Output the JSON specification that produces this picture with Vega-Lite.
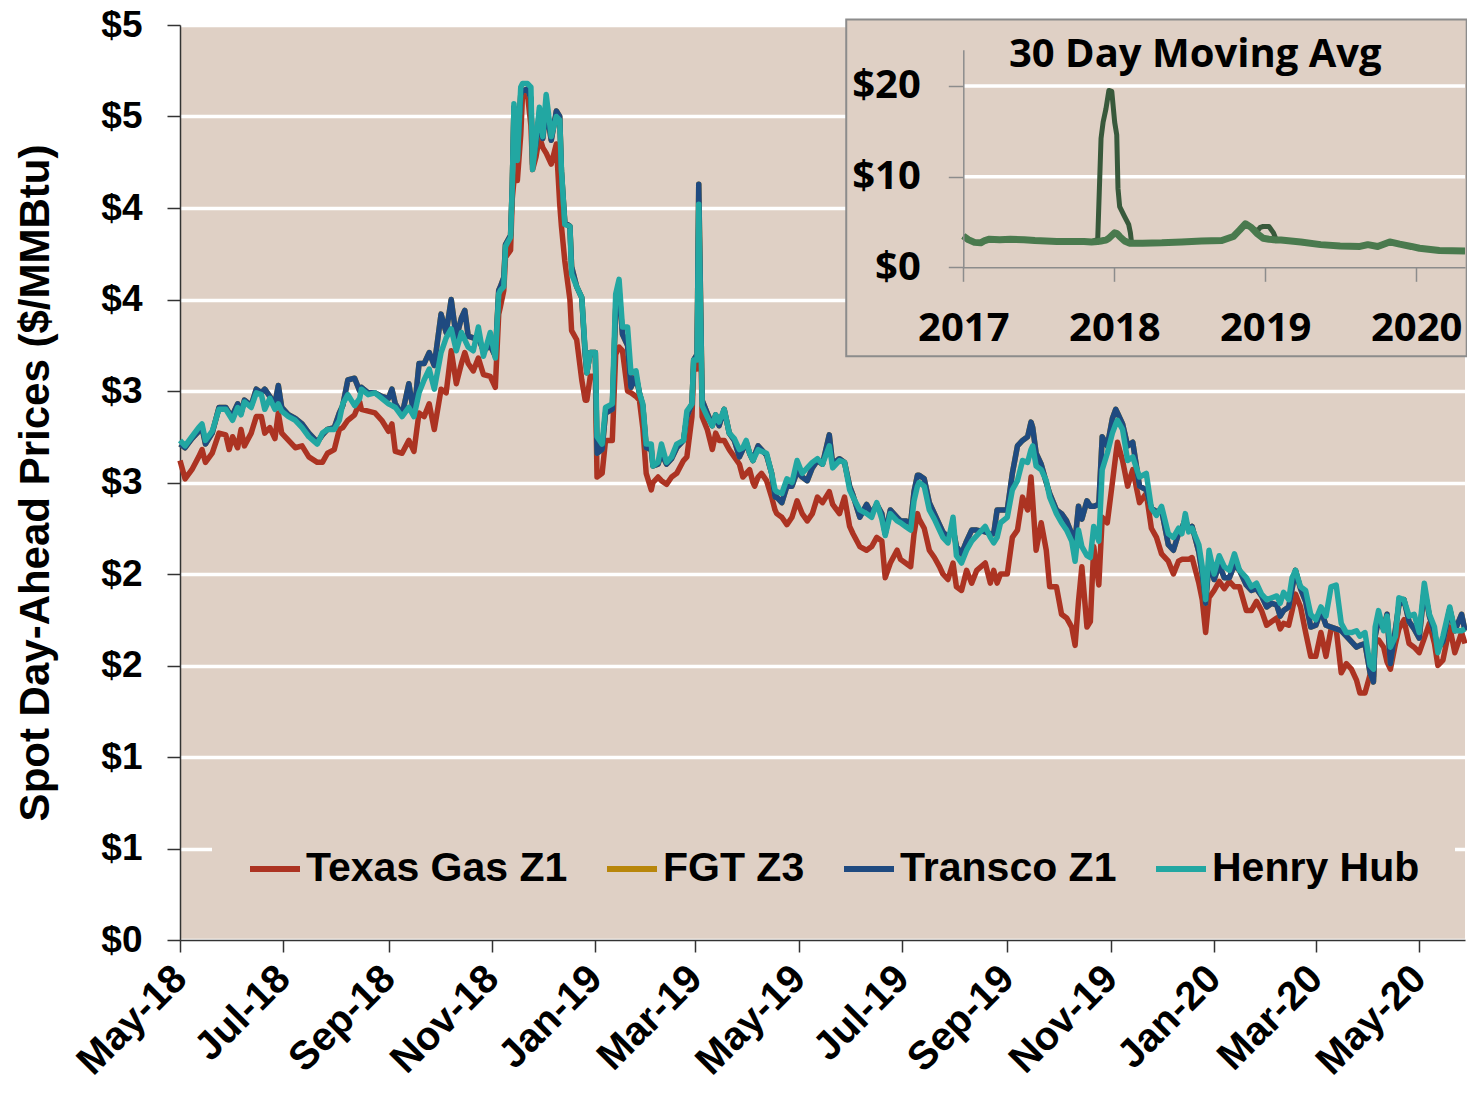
{
  "$schema": "https://vega.github.io/schema/vega-lite/v6.json",
  "width": 1285,
  "height": 915,
  "autosize": {"type": "none"},
  "padding": {"left": 180, "top": 25, "right": 2, "bottom": 153},
  "background": "white",
  "view": {"fill": "#DFD0C5", "stroke": null},
  "config": {
    "font": "Liberation Sans",
    "axis": {"labelColor": "black", "titleColor": "black", "labelFlush": false, "labelOverlap": false}
  },
  "datasets": {
    "main": [
      {"d":"2018-05-01","tx":2.62,"tr":2.71,"hh":2.73},
      {"d":"2018-05-04","tx":2.52,"tr":2.69,"hh":2.70},
      {"d":"2018-05-08","tx":2.57,"tr":2.74,"hh":2.75},
      {"d":"2018-05-12","tx":2.64,"tr":2.78,"hh":2.80},
      {"d":"2018-05-14","tx":2.68,"tr":2.80,"hh":2.82},
      {"d":"2018-05-16","tx":2.61,"tr":2.71,"hh":2.73},
      {"d":"2018-05-20","tx":2.66,"tr":2.77,"hh":2.78},
      {"d":"2018-05-24","tx":2.77,"tr":2.91,"hh":2.90},
      {"d":"2018-05-28","tx":2.76,"tr":2.91,"hh":2.90},
      {"d":"2018-05-30","tx":2.68,"tr":2.88,"hh":2.87},
      {"d":"2018-06-01","tx":2.75,"tr":2.87,"hh":2.84},
      {"d":"2018-06-04","tx":2.69,"tr":2.93,"hh":2.91},
      {"d":"2018-06-06","tx":2.79,"tr":2.88,"hh":2.87},
      {"d":"2018-06-08","tx":2.70,"tr":2.95,"hh":2.94},
      {"d":"2018-06-12","tx":2.77,"tr":2.92,"hh":2.91},
      {"d":"2018-06-15","tx":2.86,"tr":3.01,"hh":2.99},
      {"d":"2018-06-18","tx":2.86,"tr":2.99,"hh":2.98},
      {"d":"2018-06-20","tx":2.77,"tr":3.01,"hh":2.90},
      {"d":"2018-06-23","tx":2.80,"tr":2.97,"hh":2.96},
      {"d":"2018-06-26","tx":2.74,"tr":2.93,"hh":2.90},
      {"d":"2018-06-28","tx":2.88,"tr":3.03,"hh":2.93},
      {"d":"2018-06-30","tx":2.77,"tr":2.91,"hh":2.89},
      {"d":"2018-07-04","tx":2.73,"tr":2.87,"hh":2.86},
      {"d":"2018-07-08","tx":2.69,"tr":2.85,"hh":2.84},
      {"d":"2018-07-12","tx":2.70,"tr":2.82,"hh":2.80},
      {"d":"2018-07-16","tx":2.64,"tr":2.77,"hh":2.75},
      {"d":"2018-07-21","tx":2.61,"tr":2.72,"hh":2.71},
      {"d":"2018-07-24","tx":2.61,"tr":2.76,"hh":2.77},
      {"d":"2018-07-27","tx":2.66,"tr":2.79,"hh":2.79},
      {"d":"2018-07-31","tx":2.68,"tr":2.80,"hh":2.79},
      {"d":"2018-08-03","tx":2.79,"tr":2.88,"hh":2.84},
      {"d":"2018-08-05","tx":2.80,"tr":2.92,"hh":2.93},
      {"d":"2018-08-08","tx":2.84,"tr":3.06,"hh":2.98},
      {"d":"2018-08-12","tx":2.87,"tr":3.07,"hh":2.92},
      {"d":"2018-08-15","tx":2.94,"tr":3.00,"hh":2.96},
      {"d":"2018-08-16","tx":2.90,"tr":3.02,"hh":3.01},
      {"d":"2018-08-20","tx":2.89,"tr":2.99,"hh":2.98},
      {"d":"2018-08-24","tx":2.88,"tr":2.99,"hh":2.99},
      {"d":"2018-08-28","tx":2.84,"tr":2.97,"hh":2.96},
      {"d":"2018-09-01","tx":2.78,"tr":2.96,"hh":2.93},
      {"d":"2018-09-03","tx":2.82,"tr":3.01,"hh":2.92},
      {"d":"2018-09-05","tx":2.67,"tr":2.93,"hh":2.91},
      {"d":"2018-09-09","tx":2.66,"tr":2.87,"hh":2.86},
      {"d":"2018-09-13","tx":2.73,"tr":3.04,"hh":2.91},
      {"d":"2018-09-16","tx":2.67,"tr":2.87,"hh":2.86},
      {"d":"2018-09-19","tx":2.88,"tr":3.15,"hh":2.99},
      {"d":"2018-09-22","tx":2.86,"tr":3.15,"hh":3.06},
      {"d":"2018-09-25","tx":2.93,"tr":3.21,"hh":3.12},
      {"d":"2018-09-28","tx":2.79,"tr":3.14,"hh":3.01},
      {"d":"2018-10-02","tx":3.01,"tr":3.42,"hh":3.21},
      {"d":"2018-10-05","tx":2.99,"tr":3.32,"hh":3.29},
      {"d":"2018-10-08","tx":3.22,"tr":3.50,"hh":3.34},
      {"d":"2018-10-11","tx":3.04,"tr":3.29,"hh":3.22},
      {"d":"2018-10-14","tx":3.15,"tr":3.40,"hh":3.32},
      {"d":"2018-10-16","tx":3.21,"tr":3.44,"hh":3.28},
      {"d":"2018-10-18","tx":3.15,"tr":3.30,"hh":3.24},
      {"d":"2018-10-21","tx":3.11,"tr":3.29,"hh":3.22},
      {"d":"2018-10-24","tx":3.18,"tr":3.29,"hh":3.35},
      {"d":"2018-10-27","tx":3.09,"tr":3.22,"hh":3.19},
      {"d":"2018-10-31","tx":3.08,"tr":3.25,"hh":3.32},
      {"d":"2018-11-03","tx":3.02,"tr":3.19,"hh":3.18},
      {"d":"2018-11-05","tx":3.42,"tr":3.55,"hh":3.53},
      {"d":"2018-11-06","tx":3.46,"tr":3.57,"hh":3.55},
      {"d":"2018-11-08","tx":3.55,"tr":3.62,"hh":3.57},
      {"d":"2018-11-09","tx":3.73,"tr":3.80,"hh":3.79},
      {"d":"2018-11-12","tx":3.77,"tr":3.85,"hh":3.84},
      {"d":"2018-11-13","tx":4.05,"tr":4.12,"hh":4.12},
      {"d":"2018-11-14","tx":4.15,"tr":4.55,"hh":4.57},
      {"d":"2018-11-16","tx":4.15,"tr":4.27,"hh":4.26},
      {"d":"2018-11-18","tx":4.40,"tr":4.62,"hh":4.66},
      {"d":"2018-11-19","tx":4.61,"tr":4.64,"hh":4.68},
      {"d":"2018-11-22","tx":4.62,"tr":4.65,"hh":4.68},
      {"d":"2018-11-24","tx":4.45,"tr":4.60,"hh":4.66},
      {"d":"2018-11-25","tx":4.21,"tr":4.24,"hh":4.21},
      {"d":"2018-11-27","tx":4.28,"tr":4.35,"hh":4.38},
      {"d":"2018-11-29","tx":4.39,"tr":4.50,"hh":4.55},
      {"d":"2018-12-01","tx":4.33,"tr":4.38,"hh":4.39},
      {"d":"2018-12-03","tx":4.30,"tr":4.55,"hh":4.62},
      {"d":"2018-12-06","tx":4.24,"tr":4.37,"hh":4.39},
      {"d":"2018-12-09","tx":4.35,"tr":4.53,"hh":4.50},
      {"d":"2018-12-11","tx":4.02,"tr":4.50,"hh":4.48},
      {"d":"2018-12-12","tx":3.90,"tr":4.20,"hh":4.21},
      {"d":"2018-12-14","tx":3.71,"tr":3.92,"hh":3.91},
      {"d":"2018-12-17","tx":3.50,"tr":3.90,"hh":3.90},
      {"d":"2018-12-18","tx":3.33,"tr":3.68,"hh":3.64},
      {"d":"2018-12-21","tx":3.28,"tr":3.57,"hh":3.57},
      {"d":"2018-12-24","tx":3.06,"tr":3.51,"hh":3.51},
      {"d":"2018-12-26","tx":2.95,"tr":3.20,"hh":3.22},
      {"d":"2018-12-27","tx":2.95,"tr":3.10,"hh":3.10},
      {"d":"2018-12-29","tx":3.08,"tr":3.21,"hh":3.21},
      {"d":"2019-01-01","tx":3.08,"tr":3.21,"hh":3.21},
      {"d":"2019-01-02","tx":2.53,"tr":2.66,"hh":2.75},
      {"d":"2019-01-05","tx":2.55,"tr":2.68,"hh":2.71},
      {"d":"2019-01-07","tx":2.73,"tr":2.88,"hh":2.91},
      {"d":"2019-01-11","tx":2.73,"tr":2.90,"hh":2.93},
      {"d":"2019-01-13","tx":3.20,"tr":3.45,"hh":3.53},
      {"d":"2019-01-15","tx":3.24,"tr":3.55,"hh":3.61},
      {"d":"2019-01-17","tx":3.22,"tr":3.31,"hh":3.35},
      {"d":"2019-01-20","tx":3.00,"tr":3.25,"hh":3.35},
      {"d":"2019-01-22","tx":2.99,"tr":3.02,"hh":3.10},
      {"d":"2019-01-25","tx":2.97,"tr":3.08,"hh":3.11},
      {"d":"2019-01-27","tx":2.95,"tr":2.99,"hh":2.99},
      {"d":"2019-01-29","tx":2.80,"tr":2.92,"hh":2.93},
      {"d":"2019-01-31","tx":2.55,"tr":2.69,"hh":2.71},
      {"d":"2019-02-03","tx":2.46,"tr":2.68,"hh":2.71},
      {"d":"2019-02-04","tx":2.50,"tr":2.59,"hh":2.59},
      {"d":"2019-02-07","tx":2.53,"tr":2.60,"hh":2.61},
      {"d":"2019-02-09","tx":2.51,"tr":2.66,"hh":2.71},
      {"d":"2019-02-12","tx":2.49,"tr":2.60,"hh":2.61},
      {"d":"2019-02-15","tx":2.53,"tr":2.63,"hh":2.64},
      {"d":"2019-02-18","tx":2.55,"tr":2.69,"hh":2.71},
      {"d":"2019-02-22","tx":2.62,"tr":2.73,"hh":2.73},
      {"d":"2019-02-24","tx":2.64,"tr":2.86,"hh":2.89},
      {"d":"2019-02-27","tx":2.86,"tr":2.93,"hh":2.93},
      {"d":"2019-02-28","tx":3.12,"tr":3.17,"hh":3.17},
      {"d":"2019-03-02","tx":3.12,"tr":3.20,"hh":3.17},
      {"d":"2019-03-03","tx":3.90,"tr":4.13,"hh":4.02},
      {"d":"2019-03-05","tx":2.86,"tr":2.95,"hh":2.92},
      {"d":"2019-03-08","tx":2.79,"tr":2.88,"hh":2.86},
      {"d":"2019-03-11","tx":2.68,"tr":2.81,"hh":2.81},
      {"d":"2019-03-13","tx":2.77,"tr":2.87,"hh":2.87},
      {"d":"2019-03-15","tx":2.73,"tr":2.81,"hh":2.83},
      {"d":"2019-03-18","tx":2.73,"tr":2.90,"hh":2.90},
      {"d":"2019-03-21","tx":2.68,"tr":2.77,"hh":2.77},
      {"d":"2019-03-24","tx":2.64,"tr":2.73,"hh":2.74},
      {"d":"2019-03-27","tx":2.60,"tr":2.64,"hh":2.68},
      {"d":"2019-03-29","tx":2.53,"tr":2.68,"hh":2.69},
      {"d":"2019-03-31","tx":2.55,"tr":2.72,"hh":2.73},
      {"d":"2019-04-02","tx":2.57,"tr":2.66,"hh":2.66},
      {"d":"2019-04-04","tx":2.50,"tr":2.62,"hh":2.62},
      {"d":"2019-04-05","tx":2.48,"tr":2.65,"hh":2.64},
      {"d":"2019-04-07","tx":2.53,"tr":2.70,"hh":2.68},
      {"d":"2019-04-09","tx":2.55,"tr":2.68,"hh":2.67},
      {"d":"2019-04-12","tx":2.51,"tr":2.65,"hh":2.66},
      {"d":"2019-04-15","tx":2.42,"tr":2.55,"hh":2.55},
      {"d":"2019-04-17","tx":2.35,"tr":2.42,"hh":2.46},
      {"d":"2019-04-18","tx":2.33,"tr":2.42,"hh":2.45},
      {"d":"2019-04-21","tx":2.31,"tr":2.39,"hh":2.44},
      {"d":"2019-04-24","tx":2.27,"tr":2.48,"hh":2.52},
      {"d":"2019-04-27","tx":2.31,"tr":2.48,"hh":2.50},
      {"d":"2019-04-30","tx":2.40,"tr":2.56,"hh":2.62},
      {"d":"2019-05-03","tx":2.33,"tr":2.53,"hh":2.55},
      {"d":"2019-05-06","tx":2.29,"tr":2.51,"hh":2.58},
      {"d":"2019-05-09","tx":2.33,"tr":2.58,"hh":2.61},
      {"d":"2019-05-12","tx":2.42,"tr":2.62,"hh":2.63},
      {"d":"2019-05-15","tx":2.39,"tr":2.60,"hh":2.60},
      {"d":"2019-05-19","tx":2.45,"tr":2.76,"hh":2.70},
      {"d":"2019-05-21","tx":2.38,"tr":2.60,"hh":2.58},
      {"d":"2019-05-25","tx":2.33,"tr":2.63,"hh":2.62},
      {"d":"2019-05-28","tx":2.42,"tr":2.61,"hh":2.61},
      {"d":"2019-05-31","tx":2.26,"tr":2.48,"hh":2.46},
      {"d":"2019-06-02","tx":2.22,"tr":2.43,"hh":2.42},
      {"d":"2019-06-06","tx":2.15,"tr":2.31,"hh":2.35},
      {"d":"2019-06-10","tx":2.13,"tr":2.38,"hh":2.33},
      {"d":"2019-06-13","tx":2.15,"tr":2.33,"hh":2.31},
      {"d":"2019-06-16","tx":2.20,"tr":2.38,"hh":2.39},
      {"d":"2019-06-19","tx":2.18,"tr":2.33,"hh":2.30},
      {"d":"2019-06-21","tx":1.98,"tr":2.22,"hh":2.21},
      {"d":"2019-06-24","tx":2.06,"tr":2.35,"hh":2.33},
      {"d":"2019-06-28","tx":2.13,"tr":2.31,"hh":2.29},
      {"d":"2019-06-30","tx":2.08,"tr":2.29,"hh":2.28},
      {"d":"2019-07-03","tx":2.06,"tr":2.29,"hh":2.26},
      {"d":"2019-07-06","tx":2.04,"tr":2.28,"hh":2.24},
      {"d":"2019-07-08","tx":2.22,"tr":2.45,"hh":2.40},
      {"d":"2019-07-10","tx":2.33,"tr":2.54,"hh":2.48},
      {"d":"2019-07-11","tx":2.30,"tr":2.54,"hh":2.50},
      {"d":"2019-07-14","tx":2.25,"tr":2.52,"hh":2.48},
      {"d":"2019-07-17","tx":2.13,"tr":2.39,"hh":2.35},
      {"d":"2019-07-20","tx":2.09,"tr":2.33,"hh":2.30},
      {"d":"2019-07-23","tx":2.04,"tr":2.27,"hh":2.24},
      {"d":"2019-07-25","tx":2.00,"tr":2.23,"hh":2.20},
      {"d":"2019-07-28","tx":1.97,"tr":2.20,"hh":2.17},
      {"d":"2019-07-31","tx":2.06,"tr":2.25,"hh":2.31},
      {"d":"2019-08-02","tx":1.93,"tr":2.15,"hh":2.10},
      {"d":"2019-08-05","tx":1.91,"tr":2.11,"hh":2.06},
      {"d":"2019-08-08","tx":2.02,"tr":2.18,"hh":2.13},
      {"d":"2019-08-11","tx":1.95,"tr":2.24,"hh":2.18},
      {"d":"2019-08-14","tx":2.02,"tr":2.24,"hh":2.21},
      {"d":"2019-08-19","tx":2.06,"tr":2.23,"hh":2.26},
      {"d":"2019-08-22","tx":1.95,"tr":2.22,"hh":2.20},
      {"d":"2019-08-24","tx":2.02,"tr":2.22,"hh":2.17},
      {"d":"2019-08-26","tx":1.95,"tr":2.35,"hh":2.20},
      {"d":"2019-08-28","tx":2.00,"tr":2.35,"hh":2.28},
      {"d":"2019-09-01","tx":2.00,"tr":2.35,"hh":2.31},
      {"d":"2019-09-04","tx":2.20,"tr":2.55,"hh":2.46},
      {"d":"2019-09-07","tx":2.24,"tr":2.70,"hh":2.51},
      {"d":"2019-09-10","tx":2.42,"tr":2.73,"hh":2.62},
      {"d":"2019-09-13","tx":2.35,"tr":2.75,"hh":2.61},
      {"d":"2019-09-15","tx":2.53,"tr":2.83,"hh":2.68},
      {"d":"2019-09-16","tx":2.40,"tr":2.80,"hh":2.70},
      {"d":"2019-09-18","tx":2.13,"tr":2.66,"hh":2.59},
      {"d":"2019-09-21","tx":2.28,"tr":2.60,"hh":2.57},
      {"d":"2019-09-24","tx":2.13,"tr":2.50,"hh":2.51},
      {"d":"2019-09-26","tx":1.93,"tr":2.44,"hh":2.42},
      {"d":"2019-09-30","tx":1.93,"tr":2.35,"hh":2.33},
      {"d":"2019-10-03","tx":1.78,"tr":2.33,"hh":2.28},
      {"d":"2019-10-06","tx":1.76,"tr":2.29,"hh":2.24},
      {"d":"2019-10-09","tx":1.71,"tr":2.22,"hh":2.18},
      {"d":"2019-10-11","tx":1.61,"tr":2.18,"hh":2.07},
      {"d":"2019-10-13","tx":1.85,"tr":2.37,"hh":2.24},
      {"d":"2019-10-15","tx":2.04,"tr":2.30,"hh":2.15},
      {"d":"2019-10-18","tx":1.71,"tr":2.40,"hh":2.10},
      {"d":"2019-10-20","tx":1.74,"tr":2.37,"hh":2.09},
      {"d":"2019-10-22","tx":2.15,"tr":2.37,"hh":2.26},
      {"d":"2019-10-25","tx":1.94,"tr":2.38,"hh":2.18},
      {"d":"2019-10-27","tx":2.31,"tr":2.75,"hh":2.57},
      {"d":"2019-10-30","tx":2.28,"tr":2.70,"hh":2.66},
      {"d":"2019-11-02","tx":2.50,"tr":2.85,"hh":2.77},
      {"d":"2019-11-04","tx":2.65,"tr":2.90,"hh":2.82},
      {"d":"2019-11-05","tx":2.72,"tr":2.88,"hh":2.84},
      {"d":"2019-11-08","tx":2.62,"tr":2.82,"hh":2.79},
      {"d":"2019-11-11","tx":2.48,"tr":2.70,"hh":2.62},
      {"d":"2019-11-14","tx":2.57,"tr":2.72,"hh":2.64},
      {"d":"2019-11-18","tx":2.39,"tr":2.48,"hh":2.53},
      {"d":"2019-11-22","tx":2.44,"tr":2.46,"hh":2.55},
      {"d":"2019-11-25","tx":2.25,"tr":2.36,"hh":2.36},
      {"d":"2019-11-28","tx":2.20,"tr":2.34,"hh":2.32},
      {"d":"2019-12-01","tx":2.11,"tr":2.35,"hh":2.37},
      {"d":"2019-12-05","tx":2.07,"tr":2.16,"hh":2.22},
      {"d":"2019-12-08","tx":2.00,"tr":2.13,"hh":2.20},
      {"d":"2019-12-11","tx":2.07,"tr":2.22,"hh":2.25},
      {"d":"2019-12-13","tx":2.08,"tr":2.25,"hh":2.22},
      {"d":"2019-12-15","tx":2.08,"tr":2.30,"hh":2.33},
      {"d":"2019-12-17","tx":2.08,"tr":2.24,"hh":2.23},
      {"d":"2019-12-19","tx":2.09,"tr":2.26,"hh":2.25},
      {"d":"2019-12-23","tx":1.95,"tr":2.12,"hh":2.16},
      {"d":"2019-12-25","tx":1.86,"tr":2.00,"hh":2.04},
      {"d":"2019-12-27","tx":1.68,"tr":1.84,"hh":1.86},
      {"d":"2019-12-29","tx":1.87,"tr":2.07,"hh":2.13},
      {"d":"2020-01-01","tx":1.91,"tr":1.97,"hh":2.00},
      {"d":"2020-01-04","tx":1.96,"tr":2.05,"hh":2.10},
      {"d":"2020-01-07","tx":1.92,"tr":1.98,"hh":2.04},
      {"d":"2020-01-10","tx":1.96,"tr":1.98,"hh":2.02},
      {"d":"2020-01-13","tx":1.93,"tr":2.05,"hh":2.11},
      {"d":"2020-01-16","tx":1.93,"tr":2.02,"hh":2.02},
      {"d":"2020-01-20","tx":1.80,"tr":1.94,"hh":1.98},
      {"d":"2020-01-23","tx":1.80,"tr":1.91,"hh":1.93},
      {"d":"2020-01-26","tx":1.85,"tr":1.92,"hh":1.95},
      {"d":"2020-01-29","tx":1.80,"tr":1.88,"hh":1.89},
      {"d":"2020-02-01","tx":1.72,"tr":1.82,"hh":1.86},
      {"d":"2020-02-04","tx":1.74,"tr":1.84,"hh":1.87},
      {"d":"2020-02-07","tx":1.76,"tr":1.83,"hh":1.88},
      {"d":"2020-02-09","tx":1.70,"tr":1.77,"hh":1.84},
      {"d":"2020-02-11","tx":1.73,"tr":1.80,"hh":1.90},
      {"d":"2020-02-14","tx":1.72,"tr":1.82,"hh":1.86},
      {"d":"2020-02-16","tx":1.80,"tr":1.92,"hh":1.98},
      {"d":"2020-02-18","tx":1.89,"tr":2.02,"hh":2.02},
      {"d":"2020-02-21","tx":1.82,"tr":1.92,"hh":1.93},
      {"d":"2020-02-24","tx":1.68,"tr":1.85,"hh":1.91},
      {"d":"2020-02-27","tx":1.55,"tr":1.71,"hh":1.78},
      {"d":"2020-03-01","tx":1.55,"tr":1.72,"hh":1.75},
      {"d":"2020-03-04","tx":1.68,"tr":1.80,"hh":1.82},
      {"d":"2020-03-07","tx":1.55,"tr":1.72,"hh":1.77},
      {"d":"2020-03-10","tx":1.70,"tr":1.71,"hh":1.93},
      {"d":"2020-03-13","tx":1.70,"tr":1.70,"hh":1.94},
      {"d":"2020-03-16","tx":1.46,"tr":1.69,"hh":1.73},
      {"d":"2020-03-19","tx":1.51,"tr":1.66,"hh":1.68},
      {"d":"2020-03-22","tx":1.48,"tr":1.63,"hh":1.68},
      {"d":"2020-03-25","tx":1.42,"tr":1.60,"hh":1.69},
      {"d":"2020-03-27","tx":1.35,"tr":1.61,"hh":1.66},
      {"d":"2020-03-30","tx":1.35,"tr":1.62,"hh":1.68},
      {"d":"2020-04-02","tx":1.45,"tr":1.46,"hh":1.50},
      {"d":"2020-04-04","tx":1.44,"tr":1.41,"hh":1.48},
      {"d":"2020-04-05","tx":1.64,"tr":1.66,"hh":1.71},
      {"d":"2020-04-07","tx":1.64,"tr":1.75,"hh":1.80},
      {"d":"2020-04-10","tx":1.60,"tr":1.70,"hh":1.69},
      {"d":"2020-04-12","tx":1.52,"tr":1.78,"hh":1.77},
      {"d":"2020-04-14","tx":1.48,"tr":1.51,"hh":1.60},
      {"d":"2020-04-17","tx":1.62,"tr":1.70,"hh":1.66},
      {"d":"2020-04-19","tx":1.70,"tr":1.83,"hh":1.87},
      {"d":"2020-04-22","tx":1.75,"tr":1.86,"hh":1.86},
      {"d":"2020-04-25","tx":1.62,"tr":1.74,"hh":1.77},
      {"d":"2020-04-28","tx":1.60,"tr":1.70,"hh":1.78},
      {"d":"2020-05-01","tx":1.57,"tr":1.65,"hh":1.68},
      {"d":"2020-05-04","tx":1.65,"tr":1.92,"hh":1.95},
      {"d":"2020-05-07","tx":1.73,"tr":1.77,"hh":1.78},
      {"d":"2020-05-10","tx":1.62,"tr":1.68,"hh":1.71},
      {"d":"2020-05-12","tx":1.50,"tr":1.59,"hh":1.57},
      {"d":"2020-05-15","tx":1.53,"tr":1.63,"hh":1.66},
      {"d":"2020-05-19","tx":1.71,"tr":1.81,"hh":1.82},
      {"d":"2020-05-22","tx":1.57,"tr":1.69,"hh":1.69},
      {"d":"2020-05-26","tx":1.68,"tr":1.78,"hh":1.69},
      {"d":"2020-05-28","tx":1.62,"tr":1.69,"hh":1.70}
    ],
    "box": [{"x1":"2019-05-29","x2":"2020-05-29","y1":3.19,"y2":5.03}],
    "inset": [
      {"d":"2017-01-01","base":3.45,"spike":3.45},
      {"d":"2017-01-13","base":3.05,"spike":3.05},
      {"d":"2017-01-28","base":2.75,"spike":2.75},
      {"d":"2017-02-12","base":2.7,"spike":2.7},
      {"d":"2017-02-22","base":2.95,"spike":2.95},
      {"d":"2017-03-05","base":3.1,"spike":3.1},
      {"d":"2017-03-30","base":3.05,"spike":3.05},
      {"d":"2017-04-25","base":3.1,"spike":3.1},
      {"d":"2017-05-28","base":3.05,"spike":3.05},
      {"d":"2017-06-23","base":2.95,"spike":2.95},
      {"d":"2017-07-20","base":2.9,"spike":2.9},
      {"d":"2017-08-15","base":2.85,"spike":2.85},
      {"d":"2017-09-27","base":2.85,"spike":2.85},
      {"d":"2017-10-20","base":2.85,"spike":2.85},
      {"d":"2017-11-07","base":2.8,"spike":2.8},
      {"d":"2017-11-22","base":2.85,"spike":3.1},
      {"d":"2017-11-30","base":2.9,"spike":14.2},
      {"d":"2017-12-05","base":2.95,"spike":16.0},
      {"d":"2017-12-12","base":3.0,"spike":17.5},
      {"d":"2017-12-19","base":3.2,"spike":19.5},
      {"d":"2017-12-26","base":3.5,"spike":19.4},
      {"d":"2018-01-02","base":3.8,"spike":16.0},
      {"d":"2018-01-07","base":3.75,"spike":14.6},
      {"d":"2018-01-10","base":3.6,"spike":8.7},
      {"d":"2018-01-14","base":3.4,"spike":6.7},
      {"d":"2018-01-26","base":2.9,"spike":5.6},
      {"d":"2018-02-05","base":2.7,"spike":4.7},
      {"d":"2018-02-09","base":2.65,"spike":3.8},
      {"d":"2018-02-12","base":2.65,"spike":2.65},
      {"d":"2018-03-10","base":2.65,"spike":2.65},
      {"d":"2018-04-26","base":2.7,"spike":2.7},
      {"d":"2018-06-13","base":2.8,"spike":2.8},
      {"d":"2018-07-31","base":2.9,"spike":2.9},
      {"d":"2018-09-18","base":2.95,"spike":2.95},
      {"d":"2018-10-16","base":3.4,"spike":3.4},
      {"d":"2018-10-31","base":4.1,"spike":4.1},
      {"d":"2018-11-14","base":4.8,"spike":4.8},
      {"d":"2018-11-28","base":4.4,"spike":4.4},
      {"d":"2018-12-13","base":3.7,"spike":4.0},
      {"d":"2018-12-20","base":3.45,"spike":4.4},
      {"d":"2018-12-27","base":3.2,"spike":4.5},
      {"d":"2019-01-10","base":3.1,"spike":4.5},
      {"d":"2019-01-21","base":3.05,"spike":3.8},
      {"d":"2019-01-27","base":3.0,"spike":3.1},
      {"d":"2019-02-08","base":3.0,"spike":3.0},
      {"d":"2019-03-28","base":2.8,"spike":2.8},
      {"d":"2019-05-15","base":2.5,"spike":2.5},
      {"d":"2019-07-01","base":2.35,"spike":2.35},
      {"d":"2019-08-18","base":2.3,"spike":2.3},
      {"d":"2019-09-06","base":2.5,"spike":2.5},
      {"d":"2019-09-30","base":2.3,"spike":2.3},
      {"d":"2019-10-29","base":2.8,"spike":2.8},
      {"d":"2019-11-22","base":2.55,"spike":2.55},
      {"d":"2019-12-20","base":2.3,"spike":2.3},
      {"d":"2020-01-09","base":2.1,"spike":2.1},
      {"d":"2020-02-26","base":1.85,"spike":1.85},
      {"d":"2020-04-28","base":1.8,"spike":1.8}
    ],
    "insetgrid": [{"v":10},{"v":20}],
    "insettitle": [{"label":"30 Day Moving Avg"}]
  },
  "layer": [
    {
      "layer": [
        {
          "data": {"name": "main"},
          "mark": {"type": "line", "strokeWidth": 5.5, "strokeJoin": "round"},
          "encoding": {
            "x": {
              "field": "d", "type": "temporal",
              "scale": {"type": "utc", "domain": [{"year":2018,"month":5,"date":1,"utc":true},{"year":2020,"month":5,"date":28,"utc":true}]},
              "axis": {
                "values": [
                  {"year":2018,"month":5,"date":1,"utc":true},{"year":2018,"month":7,"date":1,"utc":true},
                  {"year":2018,"month":9,"date":1,"utc":true},{"year":2018,"month":11,"date":1,"utc":true},
                  {"year":2019,"month":1,"date":1,"utc":true},{"year":2019,"month":3,"date":1,"utc":true},
                  {"year":2019,"month":5,"date":1,"utc":true},{"year":2019,"month":7,"date":1,"utc":true},
                  {"year":2019,"month":9,"date":1,"utc":true},{"year":2019,"month":11,"date":1,"utc":true},
                  {"year":2020,"month":1,"date":1,"utc":true},{"year":2020,"month":3,"date":1,"utc":true},
                  {"year":2020,"month":5,"date":1,"utc":true}
                ],
                "format": "%b-%y", "labelAngle": -45, "labelAlign": "right", "labelBaseline": "middle",
                "labelFontSize": 40, "labelFontWeight": "bold", "labelPadding": 20,
                "tickSize": 12, "tickWidth": 1.5, "tickColor": "#333", "domainColor": "#333", "domainWidth": 1.5,
                "grid": false, "title": null
              }
            },
            "y": {
              "field": "tx", "type": "quantitative",
              "title": "Spot Day-Ahead Prices ($/MMBtu)",
              "scale": {"domain": [0, 5], "nice": false, "zero": true},
              "axis": {
                "values": [0,0.5,1,1.5,2,2.5,3,3.5,4,4.5,5], "format": "$.0f",
                "labelFontSize": 37, "labelFontWeight": "bold", "labelPadding": 25,
                "tickSize": 13, "tickWidth": 1.5, "tickColor": "#333", "domainColor": "#333", "domainWidth": 1.5,
                "grid": true, "gridColor": "white", "gridWidth": 3.5, "gridOpacity": 1,
                "titleFontSize": 42, "titleFontWeight": "bold", "titlePadding": 43
              }
            },
            "color": {
              "datum": "Texas Gas Z1",
              "scale": {"domain": ["Texas Gas Z1","FGT Z3","Transco Z1","Henry Hub"], "range": ["#AC3322","#B8860B","#1F4A80","#22A7A2"]},
              "legend": {
                "orient": "none", "legendX": 32, "legendY": 781, "direction": "horizontal", "title": null,
                "fillColor": "#DFD0C5", "padding": 35, "symbolType": "stroke", "symbolSize": 2500, "symbolStrokeWidth": 6,
                "labelFont": "Liberation Sans", "labelFontSize": 41, "labelFontWeight": "bold", "labelColor": "black",
                "labelOffset": 3, "columnPadding": 27, "labelLimit": 0, "zindex": 1
              }
            }
          }
        },
        {
          "data": {"name": "main"},
          "mark": {"type": "line", "strokeWidth": 5.5, "strokeJoin": "round"},
          "encoding": {
            "x": {"field": "d", "type": "temporal"},
            "y": {"field": "tr", "type": "quantitative", "title": "Spot Day-Ahead Prices ($/MMBtu)"},
            "color": {"datum": "FGT Z3"}
          }
        },
        {
          "data": {"name": "main"},
          "mark": {"type": "line", "strokeWidth": 5.5, "strokeJoin": "round"},
          "encoding": {
            "x": {"field": "d", "type": "temporal"},
            "y": {"field": "tr", "type": "quantitative", "title": "Spot Day-Ahead Prices ($/MMBtu)"},
            "color": {"datum": "Transco Z1"}
          }
        },
        {
          "data": {"name": "main"},
          "mark": {"type": "line", "strokeWidth": 5.5, "strokeJoin": "round"},
          "encoding": {
            "x": {"field": "d", "type": "temporal"},
            "y": {"field": "hh", "type": "quantitative", "title": "Spot Day-Ahead Prices ($/MMBtu)"},
            "color": {"datum": "Henry Hub"}
          }
        },
        {
          "data": {"name": "box"},
          "mark": {"type": "rect", "fill": "#DFD0C5", "stroke": "#8C8C8C", "strokeWidth": 2},
          "encoding": {
            "x": {"field": "x1", "type": "temporal"},
            "x2": {"field": "x2"},
            "y": {"field": "y1", "type": "quantitative", "title": "Spot Day-Ahead Prices ($/MMBtu)"},
            "y2": {"field": "y2"}
          }
        }
      ]
    },
    {
      "layer": [
        {
          "data": {"name": "insetgrid"},
          "mark": {"type": "rule", "color": "white", "strokeWidth": 3.5},
          "encoding": {
            "y": {
              "field": "v", "type": "quantitative",
              "scale": {"domain": [0, 24], "nice": false, "range": [242.3, 24.7]},
              "axis": {
                "orient": "left", "offset": -783.3, "values": [0, 10, 20], "format": "$.0f",
                "labelFont": "Open Sans", "labelFontSize": 40, "labelFontWeight": "bold",
                "labelPadding": 28, "tickSize": 15, "tickColor": "#8C8C8C", "tickWidth": 1.5,
                "domainColor": "#8C8C8C", "domainWidth": 1.5, "grid": false, "title": null, "zindex": 1
              }
            },
            "x": {
              "datum": {"year":2017,"month":1,"date":1,"utc":true}, "type": "temporal",
              "scale": {"type": "utc", "domain": [{"year":2017,"month":1,"date":1,"utc":true},{"year":2020,"month":4,"date":28,"utc":true}], "range": [783.3, 1285]},
              "axis": {
                "orient": "bottom", "offset": -672.7,
                "values": [{"year":2017,"month":1,"date":1,"utc":true},{"year":2018,"month":1,"date":1,"utc":true},{"year":2019,"month":1,"date":1,"utc":true},{"year":2020,"month":1,"date":1,"utc":true}],
                "format": "%Y", "labelAngle": 0, "labelAlign": "center", "labelBaseline": "top",
                "labelFont": "Open Sans", "labelFontSize": 40, "labelFontWeight": "bold",
                "labelPadding": 27, "tickSize": 14, "tickColor": "#8C8C8C", "tickWidth": 1.5,
                "domainColor": "#8C8C8C", "domainWidth": 1.5, "grid": false, "title": null, "zindex": 1
              }
            },
            "x2": {"datum": {"year":2020,"month":4,"date":28,"utc":true}}
          }
        },
        {
          "data": {"name": "inset"},
          "mark": {"type": "line", "stroke": "#38593B", "strokeWidth": 5, "strokeJoin": "round"},
          "encoding": {
            "x": {"field": "d", "type": "temporal"},
            "y": {"field": "spike", "type": "quantitative"}
          }
        },
        {
          "data": {"name": "inset"},
          "mark": {"type": "line", "stroke": "#4A7A4E", "strokeWidth": 7, "strokeJoin": "round"},
          "encoding": {
            "x": {"field": "d", "type": "temporal"},
            "y": {"field": "base", "type": "quantitative"}
          }
        },
        {
          "data": {"name": "insettitle"},
          "mark": {"type": "text", "font": "Open Sans", "fontSize": 40, "fontWeight": "bold", "color": "black", "align": "center", "baseline": "middle"},
          "encoding": {
            "text": {"field": "label", "type": "nominal"},
            "x": {"datum": {"year":2018,"month":7,"date":16,"utc":true}, "type": "temporal"},
            "y": {"datum": 23.4, "type": "quantitative"}
          }
        }
      ]
    }
  ],
  "resolve": {"scale": {"x": "independent", "y": "independent"}, "axis": {"x": "independent", "y": "independent"}}
}
